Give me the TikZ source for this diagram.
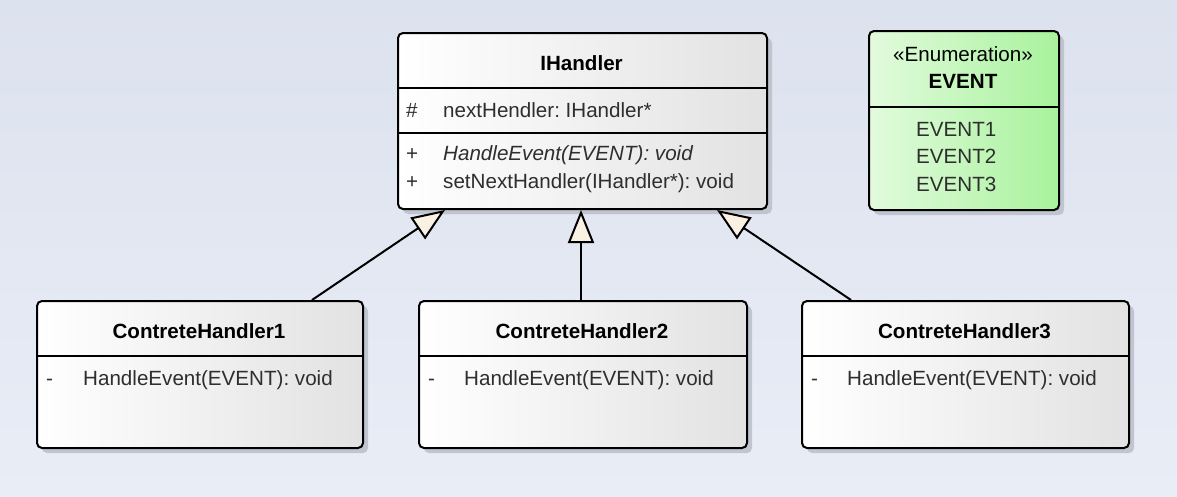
\documentclass[tikz,border=0pt]{standalone}
\usepackage{fontspec}
\setmainfont{Liberation Sans}
\frenchspacing
\usetikzlibrary{arrows.meta,shadows}
\definecolor{bgtop}{HTML}{DCE2EE}
\definecolor{bgbot}{HTML}{E9EDF6}
\definecolor{grayr}{HTML}{E2E2E2}
\definecolor{greenl}{HTML}{E2FBDD}
\definecolor{greenr}{HTML}{A8F29C}
\definecolor{cream}{HTML}{FBF1E2}
\definecolor{txt}{HTML}{2E2E2E}
\definecolor{shadowc}{HTML}{BCC1CB}
\begin{document}
\frenchspacing
\begin{tikzpicture}[x=1pt,y=-1pt,
  every node/.style={font=\fontsize{20.6}{24}\selectfont},
  box/.style={draw=black, line width=2pt, rounded corners=5pt, anchor=north west,
    inner sep=0pt, left color=white, right color=grayr,
    drop shadow={shadow xshift=5pt, shadow yshift=-5pt, fill=shadowc, opacity=0.9}},
  enumbox/.style={box, left color=greenl, right color=greenr},
  sep/.style={draw=black, line width=2pt},
  title/.style={font=\fontsize{20.6}{24}\selectfont\bfseries, text=black, anchor=base, inner sep=0pt},
  mem/.style={text=txt, anchor=base west, inner sep=0pt},
  memc/.style={text=txt, anchor=base, inner sep=0pt},
  gen/.style={draw=black, line width=2pt, -{Triangle[length=33pt,width=26pt,fill=cream]}}
]
\shade[top color=bgtop, bottom color=bgbot] (0,0) rectangle (1177,496);
\useasboundingbox (0,0) rectangle (1177,496);

% IHandler
\node[box, minimum width=369pt, minimum height=176pt] (ih) at (397,32) {};
\draw[sep] ([yshift=-56pt]ih.north west) -- ([yshift=-56pt]ih.north east);
\draw[sep] ([yshift=-101pt]ih.north west) -- ([yshift=-101pt]ih.north east);
\node[title] (iht) at (581.5,70) {IHandler};
\node[mem] (ihv1) at (406,117) {\#};
\node[mem] (iha1) at (443,117) {nextHendler: IHandler*};
\node[mem] (ihv2) at (406,160) {+};
\node[mem] (ihm1) at (443,160) {\itshape HandleEvent(EVENT): void};
\node[mem] (ihv3) at (406,188) {+};
\node[mem] (ihm2) at (443,188) {setNextHandler(IHandler*): void};

% EVENT enumeration
\node[enumbox, minimum width=190pt, minimum height=179pt] (ev) at (868,30) {};
\draw[sep] ([yshift=-77pt]ev.north west) -- ([yshift=-77pt]ev.north east);
\node[memc, text=black] (evs) at (963,61) {«Enumeration»};
\node[title] (evt) at (963,88) {EVENT};
\node[mem] (ev1) at (916,136) {EVENT1};
\node[mem] (ev2) at (916,163) {EVENT2};
\node[mem] (ev3) at (916,191) {EVENT3};

% Concrete handlers
\node[box, minimum width=326pt, minimum height=147pt] (ch1) at (36,300) {};
\draw[sep] ([yshift=-56pt]ch1.north west) -- ([yshift=-56pt]ch1.north east);
\node[title] (ch1t) at (199,338) {ContreteHandler1};
\node[mem] (ch1v) at (46,385) {-};
\node[mem] (ch1m) at (83,385) {HandleEvent(EVENT): void};

\node[box, minimum width=328pt, minimum height=147pt] (ch2) at (418,300) {};
\draw[sep] ([yshift=-56pt]ch2.north west) -- ([yshift=-56pt]ch2.north east);
\node[title] (ch2t) at (582,338) {ContreteHandler2};
\node[mem] (ch2v) at (428,385) {-};
\node[mem] (ch2m) at (464,385) {HandleEvent(EVENT): void};

\node[box, minimum width=327pt, minimum height=147pt] (ch3) at (801,300) {};
\draw[sep] ([yshift=-56pt]ch3.north west) -- ([yshift=-56pt]ch3.north east);
\node[title] (ch3t) at (964.5,338) {ContreteHandler3};
\node[mem] (ch3v) at (811,385) {-};
\node[mem] (ch3m) at (847,385) {HandleEvent(EVENT): void};

% Generalizations
\draw[gen] ([xshift=-52pt]ch1.north east) -- ([xshift=48pt]ih.south west);
\draw[gen] ([xshift=-2pt]ch2.north) -- ([xshift=-2pt]ch2.north |- ih.south);
\draw[gen] ([xshift=50pt]ch3.north west) -- ([xshift=-51pt]ih.south east);
\end{tikzpicture}
\end{document}
